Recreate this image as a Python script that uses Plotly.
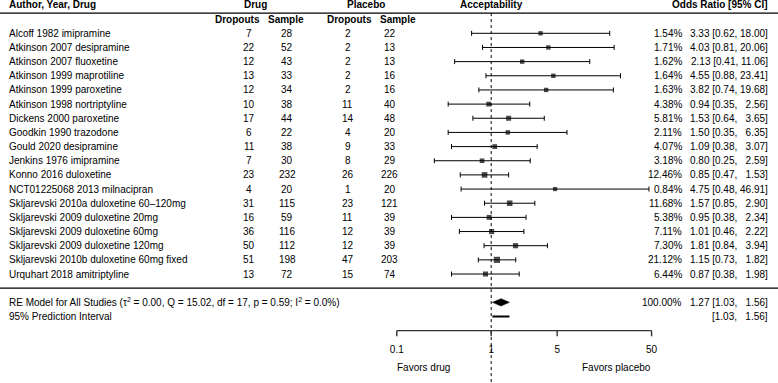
import plotly.graph_objects as go
import numpy as np

studies = [
    "Alcoff 1982 imipramine", "Atkinson 2007 desipramine", "Atkinson 2007 fluoxetine",
    "Atkinson 1999 maprotiline", "Atkinson 1999 paroxetine", "Atkinson 1998 nortriptyline",
    "Dickens 2000 paroxetine", "Goodkin 1990 trazodone", "Gould 2020 desipramine",
    "Jenkins 1976 imipramine", "Konno 2016 duloxetine", "NCT01225068 2013 milnacipran",
    "Skljarevski 2010a duloxetine 60\u2013120mg", "Skljarevski 2009 duloxetine 20mg",
    "Skljarevski 2009 duloxetine 60mg", "Skljarevski 2009 duloxetine 120mg",
    "Skljarevski 2010b duloxetine 60mg fixed", "Urquhart 2018 amitriptyline",
]
drug_dropouts = [7, 22, 12, 13, 12, 10, 17, 6, 11, 7, 23, 4, 31, 16, 36, 50, 51, 13]
drug_sample = [28, 52, 43, 33, 34, 38, 44, 22, 38, 30, 232, 20, 115, 59, 116, 112, 198, 72]
placebo_dropouts = [2, 2, 2, 2, 2, 11, 14, 4, 9, 8, 26, 1, 23, 11, 12, 12, 47, 15]
placebo_sample = [22, 13, 13, 16, 16, 40, 48, 20, 33, 29, 226, 20, 121, 39, 39, 39, 203, 74]
weights = [1.54, 1.71, 1.62, 1.64, 1.63, 4.38, 5.81, 2.11, 4.07, 3.18, 12.46, 0.84,
           11.68, 5.38, 7.11, 7.30, 21.12, 6.44]
odds_ratio = [3.33, 4.03, 2.13, 4.55, 3.82, 0.94, 1.53, 1.50, 1.09, 0.80, 0.85, 4.75,
              1.57, 0.95, 1.01, 1.81, 1.15, 0.87]
ci_lower = [0.62, 0.81, 0.41, 0.88, 0.74, 0.35, 0.64, 0.35, 0.38, 0.25, 0.47, 0.48,
            0.85, 0.38, 0.46, 0.84, 0.73, 0.38]
ci_upper = [18.00, 20.06, 11.06, 23.41, 19.68, 2.56, 3.65, 6.35, 3.07, 2.59, 1.53, 46.91,
            2.90, 2.34, 2.22, 3.94, 1.82, 1.98]
summary_or = 1.27
summary_lower = 1.03
summary_upper = 1.56
summary_weight = 100.00
pi_lower = 1.03
pi_upper = 1.56
re_label = ("RE Model for All Studies (\u03c4<sup>2</sup> = 0.00, Q = 15.02, df = 17, "
            "p = 0.59; I<sup>2</sup> = 0.0%)")
tick_values = [0.1, 1, 5, 50]
tick_labels = ["0.1", "1", "5", "50"]

W, H = 778, 383
FONT = "Liberation Sans, Arial, sans-serif"
FS = 10
n = len(studies)
rows = list(range(n))
row_summary = n + 1
row_pi = n + 2
row_axis = n + 3


def px(x):
    return x / W


def fmt_num(v):
    s = f"{v:.2f}"
    return "\u2007" * (5 - len(s)) + s


def fmt_ci(est, lo, hi):
    return f"{est:.2f} [{lo:.2f}, {fmt_num(hi)}]"


fig = go.Figure()

# vertical dotted reference line at OR = 1
fig.add_trace(go.Scatter(x=[1, 1], y=[-1.43, 24.8], mode="lines",
                         line=dict(color="black", width=1, dash="dot"), hoverinfo="skip"))

# study CIs and boxes
sw = np.sqrt(np.array(weights))
sizes = 4.2 + 2.0 * (sw - sw.min()) / (sw.max() - sw.min())
est = np.array(odds_ratio)
fig.add_trace(go.Scatter(
    x=est, y=rows, mode="markers",
    marker=dict(symbol="square", color="black", size=sizes, line=dict(width=0)),
    error_x=dict(type="data", symmetric=False, array=np.array(ci_upper) - est,
                 arrayminus=est - np.array(ci_lower), color="black", thickness=1, width=2.5),
))

# summary diamond
h = 0.26
fig.add_trace(go.Scatter(
    x=[summary_lower, summary_or, summary_upper, summary_or, summary_lower],
    y=[row_summary, row_summary - h, row_summary, row_summary + h, row_summary],
    mode="lines", fill="toself", fillcolor="black", line=dict(color="black", width=0.5),
))

# prediction interval
fig.add_trace(go.Scatter(x=[pi_lower, pi_upper], y=[row_pi, row_pi], mode="lines",
                         line=dict(color="black", width=2)))

# bottom axis line + ticks
fig.add_trace(go.Scatter(x=[min(tick_values), max(tick_values)], y=[row_axis, row_axis],
                         mode="lines", line=dict(color="#333333", width=1.4)))
tx, ty = [], []
for t in tick_values:
    tx += [t, t, None]
    ty += [row_axis, row_axis + 0.4, None]
fig.add_trace(go.Scatter(x=tx, y=ty, mode="lines", line=dict(color="#333333", width=1.4)))
fig.add_trace(go.Scatter(x=tick_values, y=[row_axis + 1.37] * len(tick_values), mode="text",
                         text=tick_labels, textposition="middle center",
                         textfont=dict(family=FONT, size=FS, color="black")))

ann = []


def add(x, y, text, anchor="center", bold=False):
    ann.append(dict(x=px(x), y=y, xref="paper", yref="y", text=f"<b>{text}</b>" if bold else text,
                    showarrow=False, xanchor=anchor, yanchor="middle",
                    font=dict(family=FONT, size=FS, color="black")))


# headers
add(7, -2, "Author, Year, Drug", "left", True)
add(255, -2, "Drug", bold=True)
add(366, -2, "Placebo", bold=True)
add(491.5, -2, "Acceptability", bold=True)
add(770, -2, "Odds Ratio [95% CI]", "right", True)
add(237.5, -1, "Dropouts", bold=True)
add(285.5, -1, "Sample", bold=True)
add(349, -1, "Dropouts", bold=True)
add(398, -1, "Sample", bold=True)

for i in rows:
    add(7, i, studies[i], "left")
    add(249, i, str(drug_dropouts[i]))
    add(287, i, str(drug_sample[i]))
    add(347.5, i, str(placebo_dropouts[i]))
    add(389.5, i, str(placebo_sample[i]))
    add(684, i, f"{weights[i]:.2f}%", "right")
    add(770, i, fmt_ci(odds_ratio[i], ci_lower[i], ci_upper[i]), "right")

add(7, row_summary, re_label, "left")
add(684, row_summary, f"{summary_weight:.2f}%", "right")
add(770, row_summary, fmt_ci(summary_or, summary_lower, summary_upper), "right")
add(7, row_pi, "95% Prediction Interval", "left")
add(770, row_pi, f"[{pi_lower:.2f}, {fmt_num(pi_upper)}]", "right")

add(424, row_axis + 2.63, "Favors drug")
add(616, row_axis + 2.63, "Favors placebo")

shapes = [
    dict(type="line", xref="paper", yref="y", x0=0, x1=1, y0=-1.43, y1=-1.43,
         line=dict(color="black", width=1.3)),
    dict(type="line", xref="paper", yref="y", x0=0, x1=1, y0=n, y1=n,
         line=dict(color="black", width=1.3)),
]

ppd = 94.4
x1px = 491.2
fig.update_layout(
    width=W, height=H, margin=dict(l=0, r=0, t=0, b=0),
    paper_bgcolor="white", plot_bgcolor="white", showlegend=False,
    xaxis=dict(type="log", range=[-x1px / ppd, (W - x1px) / ppd], visible=False,
               showgrid=False, zeroline=False),
    yaxis=dict(range=[(H - 33.3) / 14.16, -33.3 / 14.16], visible=False,
               showgrid=False, zeroline=False),
    annotations=ann, shapes=shapes,
)

fig.write_html(
    "out.html",
    config={"displayModeBar": False},
    post_script="document.body.style.margin='0px';document.body.style.padding='0px';"
                "document.documentElement.style.overflow='hidden';",
)
